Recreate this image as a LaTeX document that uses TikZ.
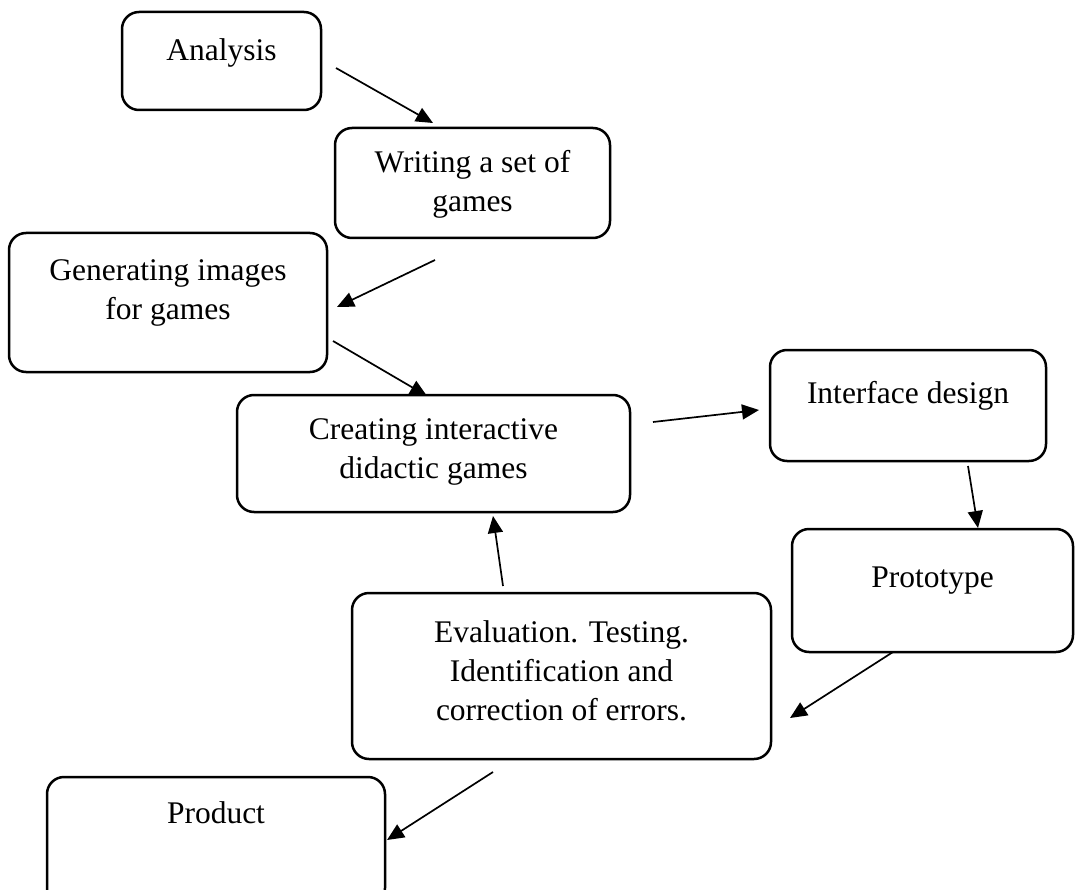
\documentclass[tikz,border=0pt]{standalone}
\usepackage{fontspec}
\setmainfont{Liberation Serif}
\usetikzlibrary{arrows.meta}
\begin{document}
\begin{tikzpicture}[x=1pt,y=-1pt]
                \useasboundingbox (0,0) rectangle (1075,890);
                \tikzstyle{every node}=[inner sep=0pt]
                \tikzstyle{box}=[draw, line width=2.5pt, rounded corners=17pt]
                \tikzstyle{txt}=[align=center, font=\fontsize{31.5}{39}\selectfont]
                \tikzstyle{arr}=[line width=1.7pt, -{Triangle[length=17pt,width=15pt]}]
                % boxes
                \node[box, minimum width=199, minimum height=98] (ana) at (221.5,61) {};
                \node[box, minimum width=275, minimum height=110] (wri) at (472.5,183) {};
                \node[box, minimum width=318, minimum height=139] (gen) at (168,302.5) {};
                \node[box, minimum width=393, minimum height=117] (cre) at (433.5,453.5) {};
                \node[box, minimum width=276, minimum height=111] (int) at (908,405.5) {};
                \node[box, minimum width=281, minimum height=123] (pro) at (932.5,590.5) {};
                \node[box, minimum width=419, minimum height=166] (eva) at (561.5,676) {};
                \node[box, minimum width=338, minimum height=128] (prd) at (216,841) {};
                % texts
                \node[txt] (anaT) at (221.5,53) {Analysis};
                \node[txt] (wriT) at (472.5,184) {Writing a set of\\games};
                \node[txt] (genT) at (168,293) {Generating images\\for games};
                \node[txt] (creT) at (433.5,452) {Creating interactive\\didactic games};
                \node[txt] (intT) at (908,396) {Interface design};
                \node[txt] (proT) at (932.5,581) {Prototype};
                \node[txt] (evaT) at (561.5,671) {Evaluation. Testing.\\Identification and\\correction of errors.};
                \node[txt] (prdT) at (216,813) {Product};
                % arrow ends
                \coordinate (a1) at (336,68);  \coordinate (b1) at (433,123);
                \coordinate (a2) at (435,260); \coordinate (b2) at (337,307);
                \coordinate (a3) at (333,341); \coordinate (b3) at (427,396);
                \coordinate (a4) at (653,422); \coordinate (b4) at (759,410);
                \coordinate (a5) at (968,466); \coordinate (b5) at (978,528);
                \coordinate (a6) at (893,652); \coordinate (b6) at (790,718);
                \coordinate (a7) at (503,586); \coordinate (b7) at (493,516);
                \coordinate (a8) at (493,772); \coordinate (b8) at (387,840);
                \draw[arr] (a1) -- (b1);
                \draw[arr] (a2) -- (b2);
                \draw[arr] (a3) -- (b3);
                \draw[arr] (a4) -- (b4);
                \draw[arr] (a5) -- (b5);
                \draw[arr] (a6) -- (b6);
                \draw[arr] (a7) -- (b7);
                \draw[arr] (a8) -- (b8);
            \end{tikzpicture}
\end{document}
